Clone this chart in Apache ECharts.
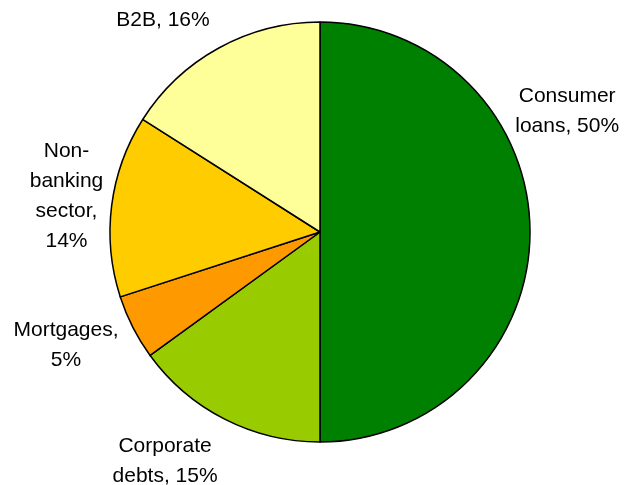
<!DOCTYPE html>
<html>
<head>
<meta charset="utf-8">
<script src="https://cdn.jsdelivr.net/npm/echarts@6/dist/echarts.min.js"></script>
<style>
  html, body { margin: 0; padding: 0; background: #fff; }
  #chart { width: 630px; height: 485px; }
</style>
</head>
<body>
<div id="chart"></div>
<script>
// Portfolio structure by segment, in percent
const categories = ['Consumer loans', 'Corporate debts', 'Mortgages', 'Non-banking sector', 'B2B'];
const shares = [50, 15, 5, 14, 16];
// How each category name is wrapped in its label
const labelNames = ['Consumer\nloans', 'Corporate\ndebts', 'Mortgages', 'Non-\nbanking\nsector', 'B2B'];
const labelSeparators = [' ', ' ', '\n', '\n', ' '];
const colors = ['#008000', '#99CC00', '#FF9900', '#FFCC00', '#FFFF99'];

// Pie geometry
const cx = 320, cy = 232, radius = 210;
// Label anchors as [angle clockwise from 12 o'clock in degrees, distance from centre]
const labelPolar = [[64, 275], [214, 277], [246, 278], [278, 256], [323.5, 264]];

const chart = echarts.init(document.getElementById('chart'), null, { renderer: 'canvas' });

chart.setOption({
  backgroundColor: '#ffffff',
  animation: false,
  series: [{
    type: 'pie',
    center: [cx, cy],
    radius: radius,
    startAngle: 90,
    clockwise: true,
    avoidLabelOverlap: false,
    data: categories.map((name, i) => ({
      name: name,
      value: shares[i],
      itemStyle: { color: colors[i] }
    })),
    itemStyle: { borderColor: '#000000', borderWidth: 1.5 },
    emphasis: { disabled: true },
    label: {
      show: true,
      position: 'outside',
      fontFamily: 'Liberation Sans, Arial, sans-serif',
      fontSize: 21,
      lineHeight: 30,
      color: '#000000',
      formatter: p => labelNames[p.dataIndex] + ',' + labelSeparators[p.dataIndex] + p.value + '%'
    },
    labelLine: { show: false },
    labelLayout: p => {
      const [deg, dist] = labelPolar[p.dataIndex];
      const a = deg * Math.PI / 180;
      return {
        x: cx + dist * Math.sin(a),
        y: cy - dist * Math.cos(a),
        align: 'center',
        verticalAlign: 'middle'
      };
    }
  }]
});
</script>
</body>
</html>
